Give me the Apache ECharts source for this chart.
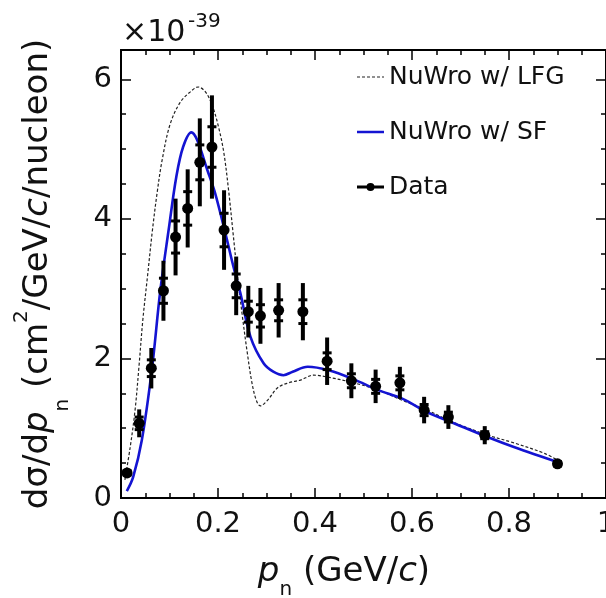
<!DOCTYPE html>
<html>
<head>
<meta charset="utf-8">
<script src="https://cdn.jsdelivr.net/npm/echarts@6/dist/echarts.min.js"></script>
<style>
html,body{margin:0;padding:0;background:#fff;overflow:hidden;}
#chart{width:606px;height:598px;}
</style>
</head>
<body>
<div id="chart"></div>
<script>
// ---- data (cross section in units of 1e-39 cm^2/GeV/c/nucleon) ----
var pn      = [0.0125,0.0375,0.0625,0.0875,0.1125,0.1375,0.1625,0.1875,0.2125,0.2375,0.2625,0.2875,0.325,0.375,0.425,0.475,0.525,0.575,0.625,0.675,0.75,0.9];
var xsec    = [0.36,1.07,1.86,2.97,3.74,4.15,4.81,5.03,3.84,3.04,2.67,2.61,2.69,2.67,1.96,1.68,1.60,1.65,1.26,1.16,0.90,0.49];
var errTot  = [0.06,0.20,0.29,0.43,0.55,0.56,0.63,0.74,0.57,0.42,0.37,0.40,0.39,0.41,0.34,0.25,0.24,0.23,0.19,0.17,0.13,0.05];
var errStat = [0.03,0.09,0.12,0.18,0.23,0.24,0.25,0.29,0.24,0.17,0.15,0.16,0.15,0.17,0.12,0.10,0.10,0.10,0.08,0.07,0.05,0.03];

var sfCurve = [[0.012,0.10],[0.025,0.30],[0.043,0.83],[0.064,1.86],[0.081,2.97],[0.099,3.88],[0.114,4.60],[0.128,5.03],[0.145,5.24],[0.157,5.13],[0.178,4.70],[0.194,4.37],[0.215,3.80],[0.232,3.31],[0.246,2.94],[0.267,2.31],[0.294,1.93],[0.314,1.81],[0.335,1.76],[0.354,1.81],[0.385,1.88],[0.428,1.83],[0.48,1.70],[0.529,1.55],[0.581,1.42],[0.631,1.23],[0.68,1.09],[0.757,0.87],[0.81,0.73],[0.906,0.50]];
var lfgCurve = [[0.008,0.26],[0.019,0.73],[0.029,1.26],[0.037,1.88],[0.045,2.55],[0.055,3.20],[0.065,3.85],[0.075,4.40],[0.085,4.85],[0.101,5.35],[0.122,5.67],[0.143,5.82],[0.159,5.89],[0.174,5.82],[0.188,5.63],[0.201,5.32],[0.212,4.95],[0.222,4.40],[0.231,3.80],[0.24,3.20],[0.25,2.62],[0.26,2.10],[0.27,1.65],[0.279,1.40],[0.287,1.32],[0.302,1.40],[0.323,1.58],[0.345,1.65],[0.37,1.69],[0.397,1.76],[0.428,1.73],[0.48,1.65],[0.529,1.55],[0.58,1.40],[0.631,1.26],[0.68,1.10],[0.757,0.90],[0.81,0.79],[0.873,0.64],[0.906,0.52]];

var xTicks = [0, 0.2, 0.4, 0.6, 0.8, 1];
var yTicks = [0, 2, 4, 6];

var FONT = 'DejaVu Sans';
var TXT = '#111';
var YMAX = 6.42;

var chart = echarts.init(document.getElementById('chart'));

function xAxisCfg(pos, withLabel) {
  return {
    type: 'value', position: pos, min: 0, max: 1, interval: 0.2,
    axisLine: {show: true, onZero: false, lineStyle: {color: '#000', width: 2}},
    axisTick: {show: true, inside: true, length: 10, lineStyle: {color: '#000', width: 1.5}},
    minorTick: {show: true, splitNumber: 4, length: 5, lineStyle: {color: '#000', width: 1.5}},
    splitLine: {show: false}, minorSplitLine: {show: false},
    axisLabel: {show: withLabel, fontSize: 29, color: TXT, fontFamily: FONT, margin: 12,
      formatter: function (v) { var r = Math.round(v*10)/10; return xTicks.indexOf(r) >= 0 ? String(r) : ''; }}
  };
}
function yAxisCfg(pos, interval, len, withLabel) {
  return {
    type: 'value', position: pos, min: 0, max: YMAX, interval: interval,
    axisLine: {show: true, onZero: false, lineStyle: {color: '#000', width: 2}},
    axisTick: {show: true, inside: true, length: len, lineStyle: {color: '#000', width: 1.5}},
    splitLine: {show: false},
    axisLabel: {show: withLabel, showMaxLabel: false, fontSize: 29, color: TXT, fontFamily: FONT, margin: 9,
      formatter: function (v) { return yTicks.indexOf(v) >= 0 ? String(v) : ''; }}
  };
}

var xMain = xAxisCfg('bottom', true);
xMain.name = '{i|p}{sub|n} (GeV/{i|c})';
xMain.nameLocation = 'middle';
xMain.nameGap = 26;
xMain.nameTextStyle = {fontSize: 34, color: TXT, fontFamily: FONT, padding: [0, 39, 0, 0], lineHeight: 56,
  rich: {i: {fontStyle: 'italic', fontSize: 34, fontFamily: FONT, color: TXT, lineHeight: 56},
         sub: {fontSize: 20, fontFamily: FONT, color: TXT, verticalAlign: 'bottom', lineHeight: 18}}};

var yMain = yAxisCfg('left', 2, 10, true);
yMain.name = 'd\u03c3/d{i|p}{sub|n} (cm{sup|2}/GeV/{i|c}/nucleon)';
yMain.nameLocation = 'middle';
yMain.nameGap = 48;
yMain.nameTextStyle = {fontSize: 34, color: TXT, fontFamily: FONT, lineHeight: 70,
  rich: {i: {fontStyle: 'italic', fontSize: 34, fontFamily: FONT, color: TXT, lineHeight: 70},
         sub: {fontSize: 20, fontFamily: FONT, color: TXT, verticalAlign: 'bottom', lineHeight: 18},
         sup: {fontSize: 20, fontFamily: FONT, color: TXT, verticalAlign: 'top', padding: [9, 0, 0, 0]}}};

var BB = 'M0,0 L0.001,0 L0,0.001 Z M27,12 L26.999,12 L27,11.999 Z ';
var iconLFG = 'path://' + BB + 'M0,5.4 L3,5.4 L3,6.6 L0,6.6 Z M5,5.4 L8,5.4 L8,6.6 L5,6.6 Z M10,5.4 L13,5.4 L13,6.6 L10,6.6 Z M15,5.4 L18,5.4 L18,6.6 L15,6.6 Z M20,5.4 L23,5.4 L23,6.6 L20,6.6 Z M25,5.4 L27,5.4 L27,6.6 L25,6.6 Z';
var iconSF = 'path://' + BB + 'M0,4.7 L27,4.7 L27,7.3 L0,7.3 Z';
var iconData = 'path://' + BB + 'M0,4.5 L10,4.5 L10,7.5 L0,7.5 Z M17,4.5 L27,4.5 L27,7.5 L17,7.5 Z M9.5,6 A4,4 0 1,1 17.5,6 A4,4 0 1,1 9.5,6 Z';

var option = {
  animation: false,
  backgroundColor: '#fff',
  grid: {left: 121, right: 0, top: 50, bottom: 100, containLabel: false, outerBoundsMode: 'none'},
  xAxis: [xMain, xAxisCfg('top', false)],
  yAxis: [yMain, yAxisCfg('left', 0.5, 5, false), yAxisCfg('right', 2, 10, false), yAxisCfg('right', 0.5, 5, false)],
  legend: {
    orient: 'vertical', left: 357, top: 64, padding: 0, itemWidth: 27, itemHeight: 12, itemGap: 29,
    textStyle: {fontSize: 25, color: TXT, fontFamily: FONT, lineHeight: 26},
    data: [
      {name: 'NuWro w/ LFG', icon: iconLFG},
      {name: 'NuWro w/ SF', icon: iconSF},
      {name: 'Data', icon: iconData}
    ]
  },
  graphic: [
    {type: 'text', left: 122, top: 18, style: {text: '\u00d710', fontSize: 30, fontFamily: FONT, fill: TXT}},
    {type: 'text', left: 188, top: 12, style: {text: '-39', fontSize: 20, fontFamily: FONT, fill: TXT}}
  ],
  series: [
    {name: 'NuWro w/ LFG', type: 'line', data: lfgCurve, smooth: 0.35, showSymbol: false, symbol: 'none',
     lineStyle: {color: '#222', width: 1.2, type: [3, 2]}, itemStyle: {color: '#222'}, z: 2},
    {name: 'NuWro w/ SF', type: 'line', data: sfCurve, smooth: 0.35, showSymbol: false, symbol: 'none',
     lineStyle: {color: '#1414d2', width: 2.6}, itemStyle: {color: '#1414d2'}, z: 3},
    {name: 'Data', type: 'custom', z: 5, itemStyle: {color: '#000'},
     encode: {x: 0, y: 1},
     data: pn.map(function (x, i) { return [x, xsec[i], errTot[i], errStat[i]]; }),
     renderItem: function (params, api) {
       var x = api.value(0), y = api.value(1), et = api.value(2), es = api.value(3);
       var c = api.coord([x, y]);
       var t = api.coord([x, y + et]), b = api.coord([x, y - et]);
       var st = api.coord([x, y + es]), sb = api.coord([x, y - es]);
       return {type: 'group', children: [
         {type: 'line', shape: {x1: c[0], y1: t[1], x2: c[0], y2: b[1]}, style: {stroke: '#000', lineWidth: 4}},
         {type: 'line', shape: {x1: c[0]-4.5, y1: st[1], x2: c[0]+4.5, y2: st[1]}, style: {stroke: '#000', lineWidth: 3}},
         {type: 'line', shape: {x1: c[0]-4.5, y1: sb[1], x2: c[0]+4.5, y2: sb[1]}, style: {stroke: '#000', lineWidth: 3}},
         {type: 'circle', shape: {cx: c[0], cy: c[1], r: 5.5}, style: {fill: '#000'}}
       ]};
     }}
  ]
};
chart.setOption(option);
</script>
</body>
</html>
